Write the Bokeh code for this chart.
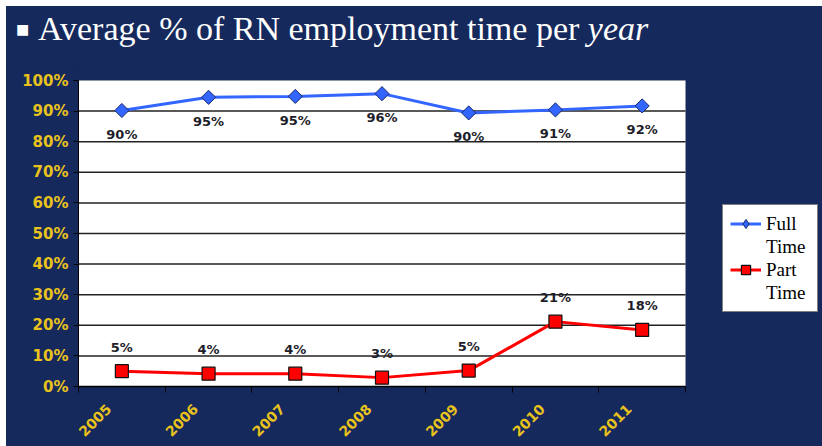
from bokeh.plotting import figure
from bokeh.layouts import column
from bokeh.models import (Range1d, FixedTicker, CustomJSTickFormatter, PrintfTickFormatter,
                          ColumnDataSource, Legend, LegendItem, BoxAnnotation, Div)
from bokeh.embed import file_html
from bokeh.resources import INLINE
from bokeh.core.properties import value
import math

years = ["2005", "2006", "2007", "2008", "2009", "2010", "2011"]
full_time = [90.2, 94.5, 94.8, 95.7, 89.4, 90.4, 91.7]
part_time = [5.0, 4.2, 4.2, 2.9, 5.2, 21.2, 18.5]
full_labels = ["90%", "95%", "95%", "96%", "90%", "91%", "92%"]
part_labels = ["5%", "4%", "4%", "3%", "5%", "21%", "18%"]
y_ticks = [0, 10, 20, 30, 40, 50, 60, 70, 80, 90, 100]
title_main = "Average % of RN employment time per"
title_italic = "year"

BG = "#15295c"
GOLD = "#E9C31C"
BLUE = "#3366FF"
RED = "#FF0000"

# ---------- title strip (HTML text) ----------
title_html = (
    '<div style="position:relative;width:816px;height:58px;background:%s;overflow:hidden;">'
    '<span style="position:absolute;left:10px;top:16px;font-family:\'DejaVu Sans\';font-size:14px;'
    'line-height:14px;color:white;">&#9632;</span>'
    '<span style="position:absolute;left:32px;top:6px;font-family:\'Liberation Serif\';font-size:34px;'
    'line-height:34px;color:white;white-space:nowrap;">%s <i>%s</i></span>'
    '</div>' % (BG, title_main, title_italic)
)
t = Div(text=title_html, width=816, height=58, margin=0, styles={"background-color": BG})

# ---------- chart ----------
n = len(years)
PLOT_W, FRAME_W = 607, 744      # pixel widths of the white plot box and of the frame
PLOT_H, FRAME_H = 306, 322
xs = [i + 0.5 for i in range(n)]
label_ticks = [x - 0.15 for x in xs]   # rotated year labels sit left of the category centre
src = ColumnDataSource(dict(x=xs, ft=full_time, pt=part_time, ftl=full_labels, ptl=part_labels))
grid_src = ColumnDataSource(dict(y=y_ticks[1:-1]))
key_src = ColumnDataSource(dict(x=[float("nan")], y=[float("nan")]))

p = figure(width=816, height=382, output_backend="svg", toolbar_location=None, title=None,
           x_range=Range1d(0, n * FRAME_W / PLOT_W), y_range=Range1d(0, 100 * FRAME_H / PLOT_H),
           min_border_left=72, min_border_right=0, min_border_top=0, min_border_bottom=60, margin=0,
           styles={"background-color": BG})
p.background_fill_color = BG
p.border_fill_color = BG
p.outline_line_color = None
p.xgrid.visible = False
p.ygrid.visible = False

p.add_layout(BoxAnnotation(left=0, right=n, bottom=0, top=100, fill_color="white", fill_alpha=1,
                           line_color="#9a9a9a", line_width=1, level="underlay"))
p.segment(x0=0, x1=n, y0="y", y1="y", source=grid_src, line_color="#222222", line_width=1.5)

p.xaxis.bounds = (0, n)
p.xaxis.ticker = FixedTicker(ticks=label_ticks, minor_ticks=list(range(n + 1)))
p.xaxis.formatter = CustomJSTickFormatter(args=dict(labels=years),
                                          code="const i = Math.round(tick - 0.5); return labels[i] ?? '';")
p.xaxis.major_tick_line_color = None
p.xaxis.minor_tick_line_color = "black"
p.xaxis.minor_tick_out = 6
p.xaxis.minor_tick_in = 0
p.xaxis.axis_line_color = "black"
p.xaxis.axis_line_width = 1.5
p.xaxis.major_label_orientation = math.pi / 4
p.xaxis.major_label_text_color = GOLD
p.xaxis.major_label_text_font = "DejaVu Sans"
p.xaxis.major_label_text_font_style = "bold"
p.xaxis.major_label_text_font_size = "14px"
p.xaxis.major_label_standoff = 14

p.yaxis.bounds = (0, 100)
p.yaxis.ticker = FixedTicker(ticks=y_ticks)
p.yaxis.formatter = PrintfTickFormatter(format="%d%%")
p.yaxis.minor_tick_line_color = None
p.yaxis.major_tick_out = 5
p.yaxis.major_tick_in = 0
p.yaxis.major_tick_line_color = "black"
p.yaxis.axis_line_color = "black"
p.yaxis.major_label_text_color = GOLD
p.yaxis.major_label_text_font = "DejaVu Sans"
p.yaxis.major_label_text_font_style = "bold"
p.yaxis.major_label_text_font_size = "15px"
p.yaxis.major_label_standoff = 5

l1 = p.line("x", "ft", source=src, line_color=BLUE, line_width=3)
s1 = p.scatter("x", "ft", source=src, marker="square", angle=math.pi / 4, size=10,
               fill_color=BLUE, line_color="#1b2a6b", line_width=1)
l2 = p.line("x", "pt", source=src, line_color=RED, line_width=3)
s2 = p.scatter("x", "pt", source=src, marker="square", size=13, fill_color=RED,
               line_color="#111111", line_width=1.2)

p.text("x", "ft", text="ftl", source=src, y_offset=24, text_align="center", text_baseline="middle",
       text_font=value("DejaVu Sans"), text_font_style="bold", text_font_size="13px", text_color="#1e1e2a")
p.text("x", "pt", text="ptl", source=src, y_offset=-24, text_align="center", text_baseline="middle",
       text_font=value("DejaVu Sans"), text_font_style="bold", text_font_size="13px", text_color="#1e1e2a")

# legend-only keys (not drawn in the plot): diamond key, and a blank key for the wrapped second line
key_diamond = p.scatter("x", "y", source=key_src, marker="diamond", size=15, fill_color=BLUE,
                        line_color="#1b2a6b", line_width=1)
key_blank = p.line("x", "y", source=key_src, line_alpha=0)

legend = Legend(items=[LegendItem(label="Full", renderers=[l1, key_diamond]),
                       LegendItem(label="Time", renderers=[key_blank]),
                       LegendItem(label="Part", renderers=[l2, s2]),
                       LegendItem(label="Time", renderers=[key_blank])],
                location=(644, 74))
legend.background_fill_color = "white"
legend.background_fill_alpha = 1
legend.border_line_color = "black"
legend.border_line_width = 1
legend.label_text_font = "Liberation Serif"
legend.label_text_font_size = "19px"
legend.label_text_color = "black"
legend.glyph_width = 31
legend.glyph_height = 23
legend.label_height = 23
legend.label_standoff = 5
legend.label_width = 44
legend.padding = 7
legend.spacing = 0
legend.margin = 0
p.add_layout(legend, "center")

layout = column(t, p, spacing=0, styles={"background-color": BG})
layout.margin = (6, 0, 0, 6)

open("out.html", "w").write(file_html(layout, INLINE))
